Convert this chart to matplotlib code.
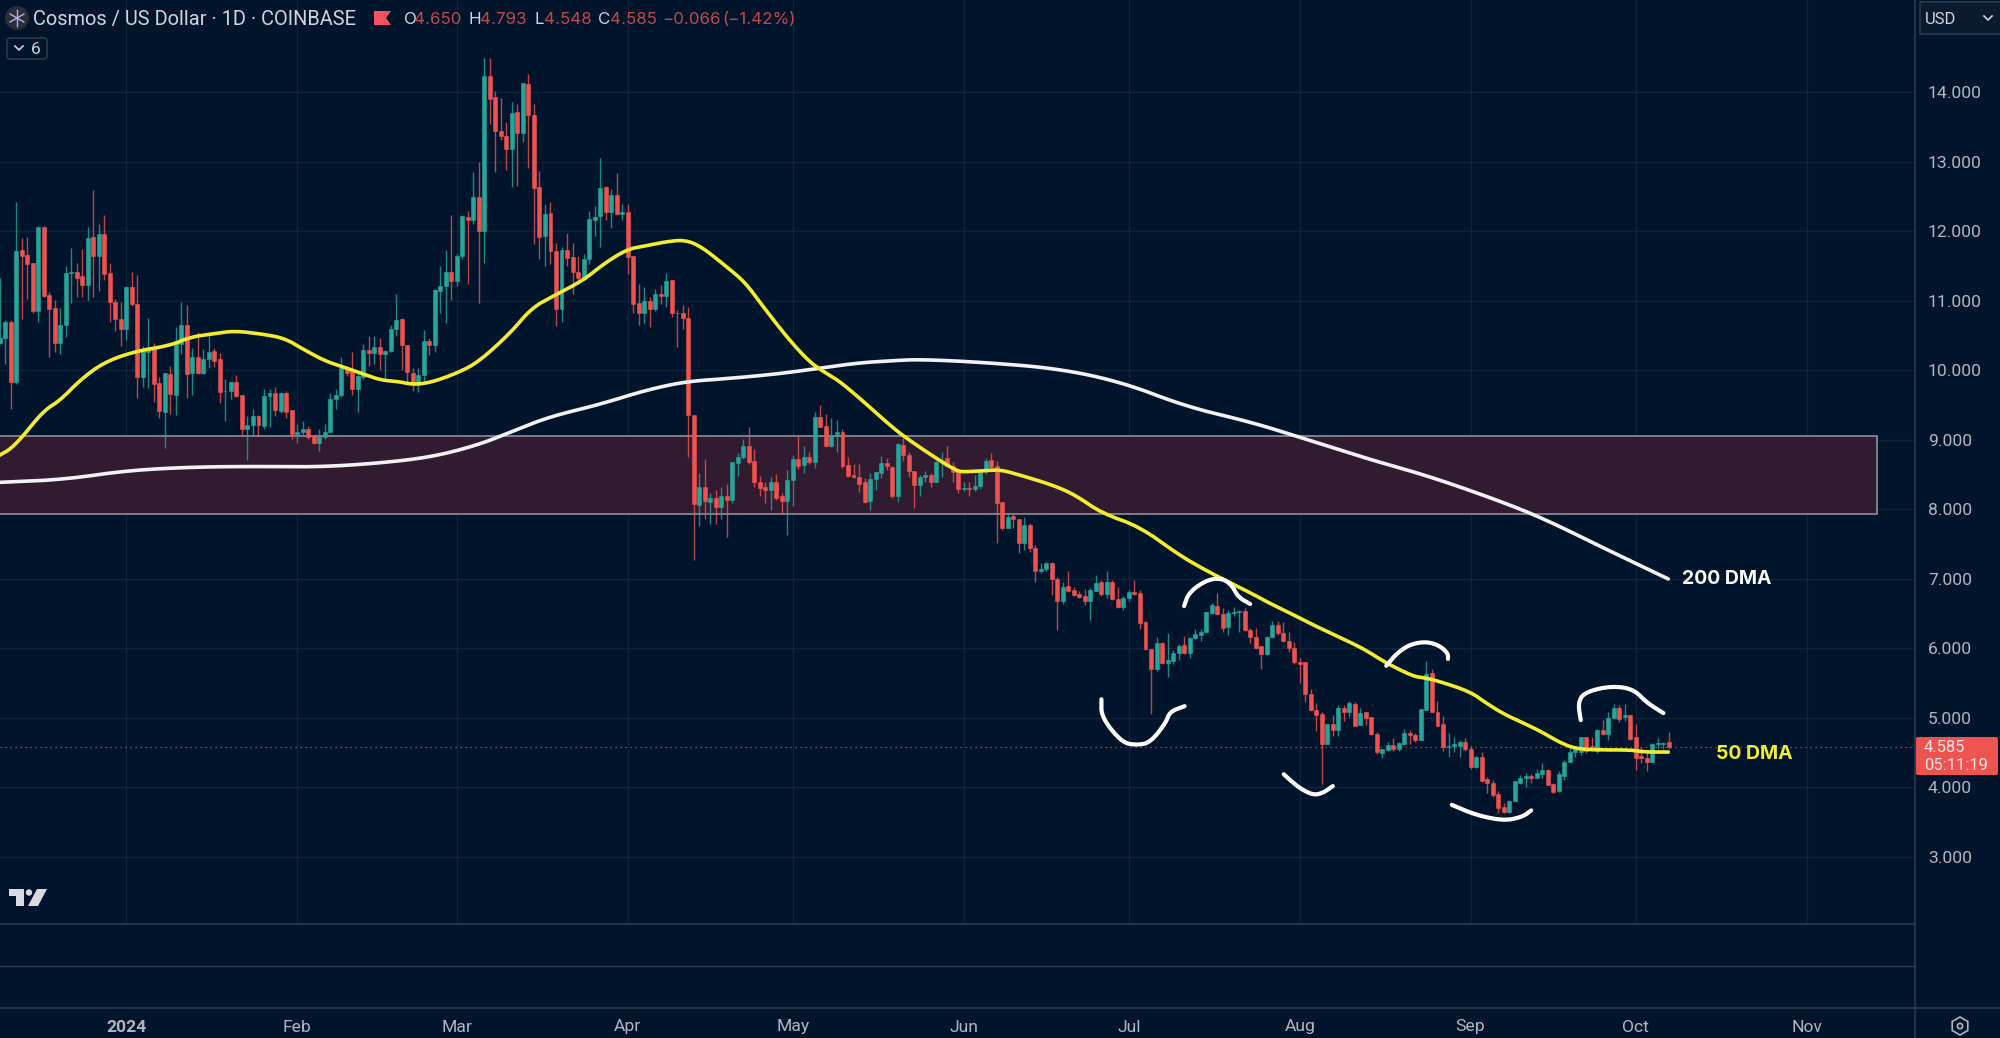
import matplotlib
matplotlib.use("Agg")
import matplotlib.pyplot as plt
from matplotlib.patches import Rectangle, FancyBboxPatch, Polygon, Circle, RegularPolygon
import numpy as np

plt.rcParams['font.family'] = ['Inter', 'DejaVu Sans']

# daily candles, first one is 23 days before 1 Jan 2024
first_day = -23
opens = [10.39,10.46,10.70,9.84,11.73,11.66,11.54,10.86,12.07,11.08,
    10.90,10.40,10.65,11.40,11.41,11.36,11.23,11.92,11.64,11.96,
    11.40,10.98,10.74,10.59,11.20,10.95,9.91,10.27,10.34,9.82,
    9.40,9.95,9.65,10.38,10.66,9.96,10.19,9.97,10.16,10.28,
    10.16,9.70,9.70,9.83,9.64,9.16,9.21,9.35,9.20,9.63,
    9.68,9.42,9.67,9.43,9.09,9.11,9.16,9.05,8.96,9.04,
    9.12,9.59,9.64,10.05,9.99,9.74,9.91,10.30,10.25,10.34,
    10.24,10.28,10.60,10.74,10.37,9.97,9.79,9.94,10.43,10.36,
    11.14,11.22,11.41,11.29,11.65,12.21,12.16,12.50,12.0,14.24,
    13.93,13.44,13.38,13.18,13.72,13.41,14.12,13.68,12.64,11.94,
    12.26,11.72,10.88,11.74,11.63,11.41,11.32,11.60,12.17,12.22,
    12.64,12.28,12.52,12.25,12.28,11.64,10.97,10.82,11.0,10.88,
    11.10,11.07,11.30,10.83,10.82,10.75,9.36,8.07,8.33,8.11,
    8.16,8.03,8.19,8.13,8.67,8.75,8.92,8.70,8.40,8.32,
    8.28,8.39,8.19,8.12,8.42,8.72,8.64,8.76,8.68,9.33,
    9.20,8.92,9.09,9.11,8.64,8.49,8.47,8.39,8.12,8.44,
    8.53,8.67,8.61,8.20,8.93,8.79,8.56,8.35,8.46,8.50,
    8.40,8.68,8.74,8.63,8.55,8.30,8.31,8.30,8.34,8.55,
    8.71,8.62,8.11,7.74,7.90,7.86,7.52,7.78,7.44,7.11,
    7.14,7.23,7.0,6.69,6.90,6.84,6.78,6.75,6.68,6.83,
    6.95,6.78,6.95,6.71,6.59,6.73,6.81,6.80,6.38,5.99,
    5.70,6.08,5.79,5.82,5.93,6.05,5.93,6.15,6.20,6.23,
    6.51,6.61,6.50,6.31,6.51,6.53,6.54,6.27,6.17,6.04,
    5.92,6.16,6.34,6.22,6.11,6.0,5.81,5.80,5.35,5.12,
    5.06,4.63,4.91,4.83,5.15,5.08,5.20,4.90,5.08,5.01,
    4.77,4.50,4.54,4.61,4.56,4.63,4.79,4.76,4.68,5.12,
    5.64,5.09,4.91,4.58,4.60,4.60,4.65,4.55,4.29,4.44,
    4.12,4.07,3.91,3.72,3.65,3.80,4.07,4.13,4.17,4.14,
    4.20,4.25,4.05,3.95,4.17,4.37,4.51,4.51,4.72,4.60,
    4.52,4.83,4.77,5.0,5.14,5.02,5.04,4.73,4.46,4.43,
    4.37,4.63,4.63,4.65]
closes = [10.47,10.70,9.84,11.72,11.65,11.53,10.86,12.07,11.07,10.89,
    10.40,10.66,11.40,11.41,11.33,11.23,11.91,11.65,11.96,11.39,
    10.98,10.74,10.59,11.20,10.96,9.91,10.28,10.33,9.81,9.41,
    9.96,9.66,10.39,10.66,9.95,10.19,9.97,10.17,10.27,10.13,
    9.69,9.71,9.83,9.63,9.16,9.22,9.34,9.21,9.63,9.67,
    9.43,9.67,9.40,9.08,9.12,9.16,9.04,8.95,9.04,9.12,
    9.59,9.64,10.04,9.97,9.74,9.92,10.29,10.25,10.34,10.24,
    10.28,10.60,10.73,10.37,9.98,9.79,9.94,10.42,10.36,11.16,
    11.22,11.41,11.29,11.65,12.22,12.16,12.49,12.0,14.24,13.90,
    13.44,13.37,13.18,13.71,13.41,14.13,13.68,12.63,11.92,12.25,
    11.72,10.88,11.74,11.62,11.41,11.33,11.61,12.18,12.21,12.63,
    12.28,12.53,12.25,12.28,11.63,10.95,10.82,11.0,10.88,11.10,
    11.07,11.29,10.82,10.82,10.75,9.36,8.08,8.33,8.12,8.16,
    8.03,8.20,8.13,8.68,8.76,8.92,8.68,8.39,8.31,8.28,
    8.39,8.17,8.12,8.43,8.72,8.63,8.76,8.68,9.33,9.19,
    8.92,9.07,9.12,8.63,8.48,8.46,8.37,8.11,8.44,8.54,
    8.67,8.62,8.20,8.94,8.79,8.56,8.35,8.46,8.49,8.40,
    8.69,8.70,8.63,8.54,8.30,8.31,8.30,8.34,8.55,8.70,
    8.61,8.10,7.74,7.89,7.86,7.52,7.78,7.44,7.11,7.14,
    7.23,7.0,6.69,6.89,6.83,6.77,6.74,6.68,6.84,6.94,
    6.78,6.95,6.71,6.59,6.73,6.81,6.79,6.37,5.99,5.71,
    6.08,5.79,5.83,5.94,6.04,5.93,6.15,6.21,6.24,6.52,
    6.62,6.49,6.30,6.51,6.53,6.54,6.27,6.17,6.01,5.92,
    6.17,6.34,6.22,6.11,6.0,5.80,5.77,5.35,5.12,5.04,
    4.63,4.91,4.83,5.15,5.08,5.21,4.89,5.07,5.0,4.77,
    4.51,4.55,4.61,4.56,4.64,4.79,4.76,4.68,5.13,5.63,
    5.09,4.89,4.58,4.60,4.62,4.66,4.55,4.29,4.44,4.10,
    4.06,3.89,3.70,3.65,3.80,4.09,4.13,4.16,4.13,4.21,
    4.25,4.04,3.94,4.20,4.37,4.51,4.56,4.72,4.53,4.58,
    4.83,4.77,5.0,5.15,4.99,5.04,4.70,4.42,4.42,4.37,
    4.62,4.64,4.64,4.585]
highs = [11.33,10.72,10.72,12.42,11.90,11.92,11.55,12.08,12.08,11.13,
    11.01,10.90,11.51,11.76,11.55,11.75,12.06,12.59,12.10,12.23,
    11.54,11.03,10.98,11.21,11.42,11.38,10.35,10.75,10.39,9.90,
    9.97,10.06,10.63,10.99,10.94,10.33,10.56,10.31,10.56,10.33,
    10.25,9.88,9.84,9.94,9.64,9.34,9.45,9.36,9.74,9.74,
    9.76,9.69,9.70,9.43,9.23,9.27,9.20,9.07,9.16,9.23,
    9.67,9.74,10.19,10.07,10.26,9.98,10.38,10.49,10.49,10.47,
    10.30,10.65,11.10,10.76,10.37,10.03,10.03,10.58,10.46,11.17,
    11.51,11.73,12.24,11.67,12.22,12.29,12.85,13.0,14.50,14.50,
    14.02,13.92,13.57,13.86,13.84,14.14,14.27,13.84,12.87,12.39,
    12.42,11.83,11.78,11.98,11.83,11.64,11.67,12.29,12.37,13.05,
    12.65,12.61,12.84,12.40,12.40,11.64,11.24,11.2,11.05,11.17,
    11.23,11.40,11.30,10.87,10.94,10.91,9.36,8.53,8.72,8.24,
    8.28,8.33,8.36,8.68,8.81,9.01,9.19,8.87,8.48,8.39,
    8.46,8.51,8.24,8.57,8.78,9.05,8.92,8.83,9.40,9.51,
    9.38,9.32,9.29,9.16,8.75,8.65,8.66,8.45,8.53,8.54,
    8.77,8.74,8.62,8.96,9.03,8.83,8.56,8.50,8.55,8.52,
    8.70,8.83,8.91,8.69,8.58,8.39,8.39,8.50,8.57,8.74,
    8.81,8.70,8.11,7.95,7.93,7.87,7.89,7.80,7.49,7.23,
    7.25,7.24,7.03,6.96,7.12,6.88,6.82,6.85,6.87,7.06,
    6.99,7.11,6.99,6.88,6.75,6.84,6.98,6.84,6.40,5.99,
    6.17,6.10,6.22,5.98,6.06,6.18,6.16,6.28,6.28,6.53,
    6.66,6.80,6.58,6.55,6.59,6.55,6.58,6.30,6.30,6.04,
    6.18,6.39,6.39,6.38,6.24,6.09,5.87,5.80,5.41,5.22,
    5.09,4.92,5.04,5.19,5.19,5.25,5.23,5.14,5.08,5.01,
    4.80,4.56,4.66,4.71,4.65,4.84,4.82,4.79,5.13,5.82,
    5.71,5.24,5.03,4.79,4.73,4.68,4.71,4.59,4.45,4.51,
    4.15,4.11,3.95,3.77,3.82,4.10,4.18,4.21,4.19,4.26,
    4.35,4.26,4.06,4.24,4.39,4.59,4.59,4.73,4.73,4.73,
    4.84,4.97,5.09,5.20,5.19,5.20,5.06,4.91,4.58,4.54,
    4.64,4.71,4.66,4.793]
lows = [10.38,10.10,9.45,9.8,10.74,11.03,10.83,10.69,11.05,10.20,
    10.27,10.24,10.48,10.97,11.05,11.05,11.01,11.06,11.15,11.30,
    10.70,10.57,10.35,10.44,10.93,9.60,9.76,9.75,9.54,9.32,
    8.89,9.37,9.36,10.24,9.60,9.65,9.95,9.95,10.04,10.05,
    9.53,9.27,9.59,9.62,9.06,8.71,9.07,9.06,9.16,9.19,
    9.35,9.39,9.32,9.01,8.96,9.07,9.02,8.94,8.84,9.02,
    9.12,9.44,9.62,9.92,9.64,9.40,9.88,10.07,10.09,10.0,
    9.88,10.27,10.49,10.01,9.83,9.71,9.69,9.82,10.22,10.26,
    10.82,10.68,11.01,11.21,11.61,11.25,12.10,10.97,11.54,13.55,
    12.85,13.31,12.89,12.64,12.66,13.29,12.92,11.82,11.61,11.50,
    11.53,10.64,10.70,11.51,11.10,11.25,11.30,11.53,11.93,11.77,
    12.16,12.05,12.23,12.16,11.39,10.82,10.65,10.68,10.63,10.85,
    10.95,10.91,10.77,10.34,10.59,8.75,7.27,7.76,7.87,7.79,
    7.79,7.87,7.60,8.10,8.48,8.72,8.66,8.32,8.20,8.10,
    7.99,8.13,7.93,7.63,8.05,8.58,8.53,8.66,8.60,9.18,
    8.91,8.90,8.82,8.60,8.47,8.45,8.25,8.09,7.99,8.28,
    8.45,8.57,8.16,8.11,8.70,8.46,8.02,8.20,8.40,8.32,
    8.39,8.46,8.62,8.40,8.24,8.26,8.19,8.26,8.29,8.51,
    8.57,7.52,7.71,7.73,7.73,7.38,7.41,7.39,6.96,7.08,
    7.12,6.77,6.26,6.64,6.81,6.75,6.72,6.62,6.41,6.82,
    6.75,6.72,6.70,6.58,6.55,6.68,6.77,6.28,5.98,5.06,
    5.68,5.77,5.59,5.78,5.84,5.92,5.87,6.13,6.11,6.22,
    6.49,6.48,6.24,6.19,6.47,6.23,6.25,6.08,5.99,5.70,
    5.91,6.15,6.19,6.10,5.95,5.77,5.50,5.23,5.10,4.81,
    4.05,4.62,4.74,4.74,4.95,5.02,4.88,4.90,4.90,4.75,
    4.48,4.43,4.53,4.53,4.52,4.61,4.62,4.65,4.68,5.11,
    5.08,4.88,4.52,4.44,4.51,4.44,4.52,4.27,4.28,4.08,
    3.92,3.87,3.63,3.63,3.63,3.79,4.05,4.01,4.07,4.13,
    4.13,4.03,3.92,3.94,4.11,4.36,4.44,4.47,4.50,4.52,
    4.50,4.75,4.69,4.99,4.94,4.96,4.68,4.25,4.35,4.23,
    4.36,4.55,4.55,4.548]

ma50_days = [-23,-21,-18.7,-15,-12,-8.4,-4.2,1.3,8,11.6,16,19.7,25,28.8,32,36,39,43.3,46.3,49.4,51.8,55,60,63.9,
    69.6,73.6,77.5,83,86.6,90.8,94,97.8,101.4,104.4,108.7,112.3,115.3,120,123.8,126.2,129.2,133,139.5,142.8,
    147.7,150.7,151.9,156.1,158.6,161.6,168.2,172.2,177,184,191,195.8,200,204.3,207.3,211.2,215.4,219.7,224.5,
    228.7,233.6,235.4,237.8,243.9,246.9,250.2,253.8,256.9,259.9,262.9,267.1,273.2,275.6,279.9]
ma50_vals = [8.78,8.87,9.06,9.42,9.57,9.86,10.11,10.27,10.36,10.48,10.53,10.57,10.52,10.46,10.31,10.14,10.06,9.94,9.86,9.84,9.80,9.82,9.96,10.12,
    10.53,10.90,11.07,11.30,11.53,11.74,11.79,11.85,11.88,11.78,11.51,11.27,10.95,10.47,10.14,10.0,9.86,9.61,9.15,8.96,
    8.70,8.56,8.54,8.56,8.57,8.51,8.35,8.21,7.95,7.75,7.35,7.13,6.96,6.79,6.66,6.51,6.34,6.18,6.0,
    5.79,5.60,5.58,5.54,5.38,5.21,5.05,4.92,4.80,4.66,4.56,4.54,4.54,4.51,4.51]
ma200_days = [-23,-11.3,0,11.8,23.4,35,46.5,55.8,63.9,69.7,76.6,85.9,94,101.4,108.7,118.3,125.6,133,139,143.8,155,169,
    180.8,192.4,204,213,224.8,236,248,257,268.8,279.9]
ma200_vals = [8.39,8.43,8.56,8.61,8.62,8.61,8.67,8.76,8.93,9.11,9.33,9.51,9.71,9.84,9.88,9.95,10.03,10.11,10.14,10.16,10.12,10.03,
    9.83,9.48,9.26,9.04,8.74,8.49,8.16,7.88,7.42,7.0]

zone_low = 7.93
zone_high = 9.05
zone_end_day = 317.8
last_close = 4.585

price_ticks = [3, 4, 5, 6, 7, 8, 9, 10, 11, 12, 13, 14]
month_days = [0, 31, 60, 91, 121, 152, 182, 213, 244, 274, 305]
month_labels = ['2024', 'Feb', 'Mar', 'Apr', 'May', 'Jun', 'Jul', 'Aug', 'Sep', 'Oct', 'Nov']

# hand drawn arcs, (day, price)
strokes = [
    [(177,5.27),(177,5.01),(180.7,4.65),(183.2,4.61),(185.8,4.64),(188.7,4.93),(189.4,5.09),(192.1,5.17)],
    [(192,6.61),(192.9,6.81),(196.2,6.99),(198.9,7.01),(200.7,6.91),(201.8,6.74),(204,6.64)],
    [(210.1,4.19),(211.2,4.11),(213,3.99),(215.4,3.89),(217.2,3.92),(219,4.02)],
    [(228.7,5.75),(230.6,5.93),(233,6.06),(236,6.10),(238.4,6.04),(239.9,5.93),(239.9,5.85)],
    [(240.6,3.75),(245.1,3.60),(250.2,3.52),(253.5,3.58),(255,3.67)],
    [(264,4.97),(263.5,5.22),(264.7,5.37),(269.4,5.46),(273.5,5.42),(276,5.22),(279,5.07)],
]

BG = '#00142c'
GRID = '#0f2339'
UP = '#26a69a'
DOWN = '#ef5350'
TXT = '#b2b5be'
LINE = '#2b3a4e'
YELLOW = '#f4ec2e'
DIM_RED = '#c4474a'


def chaikin(xs, ys, n=3):
    # round off the corners of a line
    pts = np.column_stack([xs, ys]).astype(float)
    for _ in range(n):
        q = 0.75 * pts[:-1] + 0.25 * pts[1:]
        r = 0.25 * pts[:-1] + 0.75 * pts[1:]
        mid = np.empty((len(q) * 2, 2))
        mid[0::2] = q
        mid[1::2] = r
        pts = np.vstack([pts[0], mid, pts[-1]])
    return pts[:, 0], pts[:, 1]


W, H = 2000, 1038
fig = plt.figure(figsize=(W / 100, H / 100), dpi=100, facecolor=BG)

pane_right = 1914.6
pane_bottom = 923.5
ax = fig.add_axes([0, 1 - pane_bottom / H, pane_right / W, pane_bottom / H], facecolor=BG)
ax.set_xlim(-22.92, 324.6)
ax.set_ylim(2.043, 15.33)
for s in ax.spines.values():
    s.set_visible(False)
ax.set_xticks(month_days)
ax.set_yticks(price_ticks)
ax.tick_params(left=False, bottom=False, labelleft=False, labelbottom=False)
ax.grid(True, color=GRID, lw=1)
ax.set_axisbelow(True)

ax.add_patch(Rectangle((-30, zone_low), zone_end_day + 30, zone_high - zone_low,
                       facecolor='#311b30', edgecolor='#9a9aa4', lw=1.1, zorder=1))

days = np.arange(first_day, first_day + len(closes))
o = np.array(opens)
c = np.array(closes)
colors = [UP if cl >= op else DOWN for op, cl in zip(opens, closes)]
ax.vlines(days, lows, highs, colors=colors, lw=1.0, alpha=0.8, zorder=2)
ax.bar(days, np.abs(c - o), bottom=np.minimum(o, c), width=0.72, color=colors,
       edgecolor=colors, lw=0.4, zorder=3)

ax.axhline(last_close, color=DOWN, lw=0.9, ls=(0, (1, 3)), alpha=0.85, zorder=2)
ax.plot(*chaikin(ma200_days, ma200_vals), color='#f2f2f6', lw=2.6, zorder=4, solid_capstyle='round')
ax.plot(*chaikin(ma50_days, ma50_vals, 2), color=YELLOW, lw=2.6, zorder=5, solid_capstyle='round')
for st in strokes:
    sx, sy = zip(*st)
    ax.plot(*chaikin(sx, sy), color='white', lw=3.0, zorder=6, solid_capstyle='round')

# everything around the plot is laid out in screen pixels
ov = fig.add_axes([0, 0, 1, 1], facecolor='none')
ov.set_xlim(0, W)
ov.set_ylim(H, 0)
ov.axis('off')

ov.plot([0, pane_right], [pane_bottom, pane_bottom], color=LINE, lw=1.2)
ov.plot([0, pane_right], [965.5, 965.5], color=LINE, lw=1.0)
ov.plot([0, W], [1007.6, 1007.6], color=LINE, lw=1.2)
ov.plot([pane_right, pane_right], [0, H], color=LINE, lw=1.2)

# price scale, labels follow the chart's own scale
y_px = lambda p: ax.transData.transform((0, p))[1]
for p in price_ticks:
    ov.text(1928, H - y_px(p) + 1.5, f'{p:.3f}', color=TXT, fontsize=12.6, family='Roboto', va='center', ha='left')

# time scale
x_px = lambda d: ax.transData.transform((d, 0))[0]
for d, lab in zip(month_days, month_labels):
    ov.text(x_px(d), 1027, lab, color=TXT, fontsize=12.6, family='Roboto', va='center', ha='center',
            fontweight='bold' if lab == '2024' else 'normal')

# header
ov.add_patch(Circle((17, 18), 12, facecolor='#2a2d3a', edgecolor='none'))
for a in [0, 60, 120]:
    dx, dy = 8 * np.cos(np.radians(a + 90)), 8 * np.sin(np.radians(a + 90))
    ov.plot([17 - dx, 17 + dx], [18 - dy, 18 + dy], color='#b9b4e0', lw=1.0)
ov.text(33, 19, 'Cosmos / US Dollar · 1D · COINBASE', color='#d1d4dc', fontsize=14.4, family='Roboto', va='center', ha='left')
ov.add_patch(Polygon([(374, 11), (391, 11), (386, 18), (391, 25), (374, 25)], facecolor='#f7525f', edgecolor='none'))
ohlc_bits = [(404, 'O', '#d1d4dc'), (414, '4.650', DIM_RED), (468, 'H', '#d1d4dc'), (480, '4.793', DIM_RED),
             (535, 'L', '#d1d4dc'), (544, '4.548', DIM_RED), (598, 'C', '#d1d4dc'), (610, '4.585', DIM_RED),
             (662, '−0.066', DIM_RED), (722, '(−1.42%)', DIM_RED)]
for xp, t, col in ohlc_bits:
    ov.text(xp, 19, t, color=col, fontsize=12.2, va='center', ha='left')

ov.add_patch(FancyBboxPatch((7, 38), 40, 21, boxstyle='round,pad=0,rounding_size=3', facecolor=BG, edgecolor=LINE, lw=1.2))
ov.plot([15, 19, 23], [46, 50, 46], color='#d1d4dc', lw=1.2)
ov.text(36, 49, '6', color='#d1d4dc', fontsize=12.5, family='Roboto', va='center', ha='center')

ov.add_patch(Rectangle((1920, 2), 82, 32, facecolor='#0a1a30', edgecolor=LINE, lw=1.2))
ov.text(1925, 19, 'USD', color='#d1d4dc', fontsize=12, family='Roboto', va='center', ha='left')
ov.plot([1984, 1988, 1992], [16, 20, 16], color='#d1d4dc', lw=1.2)

# last price tag
ov.add_patch(FancyBboxPatch((1916, 737), 82, 38, boxstyle='round,pad=0,rounding_size=2', facecolor=DOWN, edgecolor='none'))
ov.text(1924, 747, '4.585', color='#f7e4e4', fontsize=12, family='Roboto', va='center', ha='left')
ov.text(1924, 765, '05:11:19', color='#f7e4e4', fontsize=12, family='Roboto', va='center', ha='left')

# line labels
ov.text(1727, 579.5, '200 DMA', color='white', fontsize=14, fontweight='bold', va='center', ha='center')
ov.text(1754, 754, '50 DMA', color=YELLOW, fontsize=14, fontweight='bold', va='center', ha='center')

# TradingView mark
tv = '#d8dae0'
ov.add_patch(Polygon([(9, 889), (24, 889), (24, 906), (16, 906), (16, 896), (9, 896)], facecolor=tv, edgecolor='none'))
ov.add_patch(Circle((29, 892.5), 3.2, facecolor=tv, edgecolor='none'))
ov.add_patch(Polygon([(37, 889), (47, 889), (38, 906), (28, 906)], facecolor=tv, edgecolor='none'))

# settings icon
ov.add_patch(RegularPolygon((1960, 1026), 6, radius=9, facecolor='none', edgecolor=TXT, lw=1.2))
ov.add_patch(Circle((1960, 1026), 2.6, facecolor='none', edgecolor=TXT, lw=1.2))

fig.savefig('out.png', dpi=100, facecolor=BG)
